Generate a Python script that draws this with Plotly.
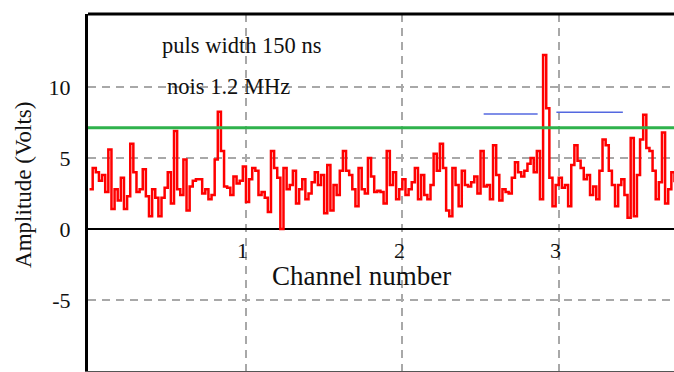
import plotly.graph_objects as go

# ---- data ----
channel_start = 0.0
channel_step = 0.02
amplitude = [
    2.8, 4.3, 4.0, 3.4, 3.8, 2.6, 5.6, 1.4, 2.8, 2.0,
    3.6, 1.4, 2.3, 6.0, 4.0, 2.6, 2.8, 4.2, 2.3, 0.9,
    2.8, 2.2, 0.9, 2.2, 2.9, 4.0, 1.8, 6.9, 2.8, 2.4,
    4.9, 1.3, 3.0, 3.4, 3.5, 3.5, 2.5, 2.8, 2.1, 2.4,
    4.9, 8.25, 5.5, 3.0, 2.9, 2.4, 3.7, 3.2, 3.4, 4.4,
    1.9, 3.5, 4.3, 4.1, 2.4, 2.6, 2.2, 1.2, 5.5, 4.3,
    3.6, 0.0, 4.3, 2.8, 3.1, 4.1, 1.8, 2.8, 3.5, 2.1,
    2.5, 3.3, 4.0, 3.1, 3.8, 1.1, 4.5, 1.3, 3.1, 2.4,
    4.1, 5.5, 4.1, 3.8, 2.8, 1.6, 4.3, 2.8, 2.5, 5.0,
    3.7, 2.6, 2.7, 2.6, 1.8, 5.5, 3.1, 4.0, 2.1, 2.8,
    3.5, 2.4, 2.8, 3.3, 4.3, 2.1, 3.8, 2.4, 2.1, 3.1,
    5.3, 4.1, 6.0, 4.3, 1.3, 0.9, 4.3, 3.1, 1.6, 4.1,
    3.1, 3.0, 3.3, 3.7, 2.5, 5.5, 3.0, 3.1, 2.1, 5.9,
    3.8, 2.0, 2.8, 2.6, 2.5, 3.6, 4.7, 4.0, 3.7, 4.1,
    4.6, 5.0, 4.0, 5.5, 2.1, 12.25, 8.5, 3.6, 1.6, 3.1,
    3.6, 2.9, 3.1, 1.6, 4.5, 5.9, 4.8, 4.3, 3.5, 3.8,
    2.4, 3.0, 2.1, 4.1, 6.3, 5.9, 4.1, 3.1, 1.6, 3.1,
    3.5, 2.4, 0.8, 6.4, 0.9, 3.8, 6.3, 8.05, 5.7, 5.5,
    4.1, 2.1, 3.3, 6.8, 1.8, 2.8, 4.0, 3.3,
]
threshold_x = [-0.01, 3.74]
threshold_y = [7.13, 7.13]
window1_x = [2.52, 2.865]
window1_y = [8.1, 8.1]
window2_x = [2.985, 3.41]
window2_y = [8.22, 8.22]
x_ticks = [1, 2, 3]
x_tick_text = ["1", "2", "3"]
y_ticks = [-5, 0, 5, 10]
y_tick_text = ["-5", "0", "5", "10"]

SERIF = "Liberation Serif, Times New Roman, serif"
GRID = "#a8a8a8"

fig = go.Figure()
fig.add_trace(go.Scatter(
    y=amplitude, x0=channel_start, dx=channel_step, mode="lines",
    line=dict(color="#ff0000", width=2.5, shape="hv"), showlegend=False,
))
fig.add_trace(go.Scatter(
    x=threshold_x, y=threshold_y, mode="lines",
    line=dict(color="#2fb24c", width=3), showlegend=False,
))
for wx, wy in ((window1_x, window1_y), (window2_x, window2_y)):
    fig.add_trace(go.Scatter(
        x=wx, y=wy, mode="lines",
        line=dict(color="#5468e0", width=1.6), showlegend=False,
    ))

fig.update_layout(
    width=674, height=372,
    margin=dict(l=88, r=0, t=14, b=1),
    paper_bgcolor="white", plot_bgcolor="white",
    font=dict(family=SERIF, color="#111111"),
    xaxis=dict(
        range=[-0.01, 3.737], tickvals=x_ticks, showticklabels=False,
        showgrid=True, gridcolor=GRID, gridwidth=2, griddash="8px,6px",
        zeroline=False, showline=True, linecolor="#555555", linewidth=1,
        ticks="",
    ),
    yaxis=dict(
        range=[-10.0, 15.14], tickvals=y_ticks, ticktext=y_tick_text,
        showgrid=True, gridcolor=GRID, gridwidth=2, griddash="8px,6px",
        zeroline=True, zerolinecolor="#000000", zerolinewidth=2,
        showline=True, linecolor="#000000", linewidth=3,
        ticks="", ticklabelstandoff=10,
        tickfont=dict(family=SERIF, size=22, color="#111111"),
    ),
    shapes=[dict(type="line", xref="paper", yref="paper", x0=0, x1=1, y0=1, y1=1,
                 line=dict(color="#000000", width=3))],
)

annotations = []
for xv, txt in zip(x_ticks, x_tick_text):
    annotations.append(dict(x=xv, y=-1.48, xref="x", yref="y", text=txt,
                            showarrow=False, xanchor="center", yanchor="middle",
                            xshift=-3, font=dict(family=SERIF, size=22, color="#111111")))
annotations.append(dict(x=1.74, y=-3.3, xref="x", yref="y", text="Channel number",
                        showarrow=False, xanchor="center", yanchor="middle",
                        font=dict(family=SERIF, size=27, color="#111111")))
annotations.append(dict(x=-0.11, y=0.52, xref="paper", yref="paper",
                        text="Amplitude (Volts)", textangle=-90, showarrow=False,
                        xanchor="center", yanchor="middle",
                        font=dict(family=SERIF, size=23, color="#111111")))
annotations.append(dict(x=0.45, y=12.9, xref="x", yref="y", text="puls width 150 ns",
                        showarrow=False, xanchor="left", yanchor="middle",
                        font=dict(family=SERIF, size=22.5, color="#111111")))
annotations.append(dict(x=0.48, y=10.0, xref="x", yref="y", text="nois 1.2 MHz",
                        showarrow=False, xanchor="left", yanchor="middle",
                        font=dict(family=SERIF, size=22.5, color="#111111")))
fig.update_layout(annotations=annotations)

fig.write_html("out.html", config={"displayModeBar": False},
               post_script="document.body.style.margin='0';")
